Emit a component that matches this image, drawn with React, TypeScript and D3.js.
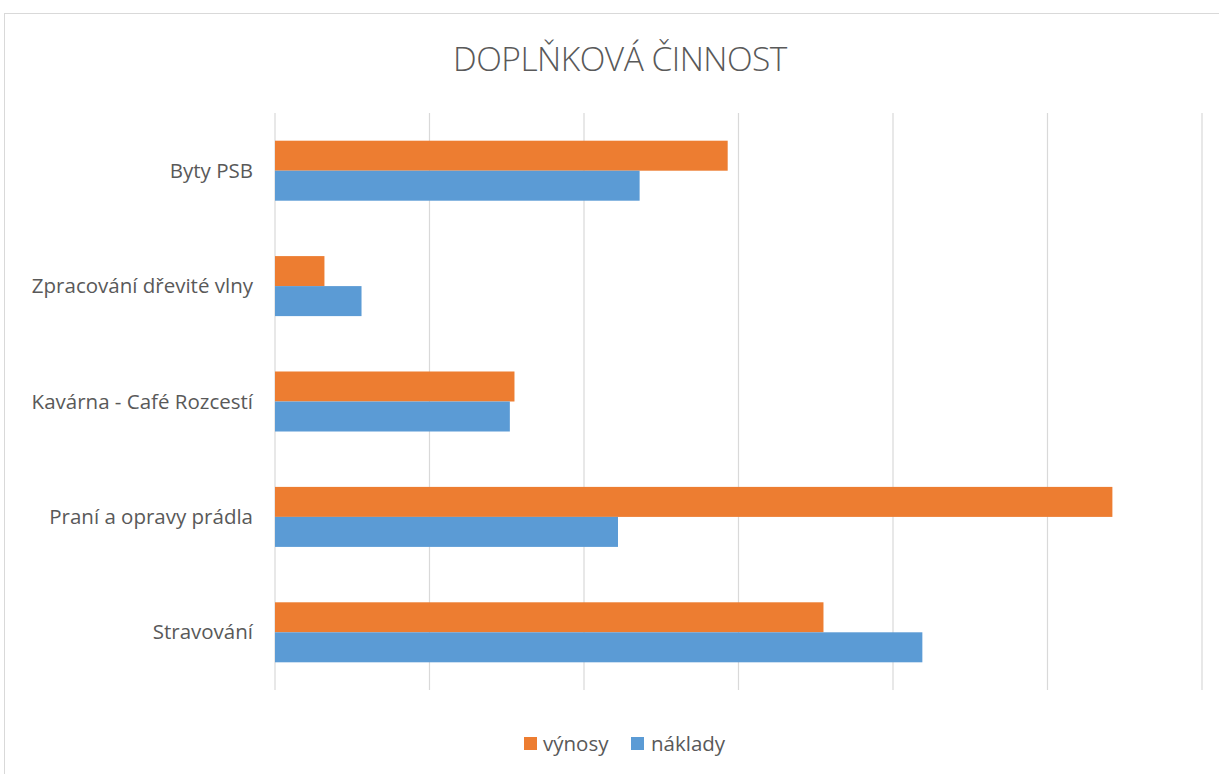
import * as d3 from "d3";

const categories = ["Byty PSB", "Zpracování dřevité vlny", "Kavárna - Café Rozcestí", "Praní a opravy prádla", "Stravování"];
const vynosy = [2.93, 0.32, 1.55, 5.42, 3.55];
const naklady = [2.36, 0.56, 1.52, 2.22, 4.19];
const ticks = [0, 1, 2, 3, 4, 5, 6];

const series = [
  { name: "výnosy", values: vynosy, color: "#ED7D31" },
  { name: "náklady", values: naklady, color: "#5B9BD5" },
];

export default function App() {
  const width = 1219, height = 774;
  const left = 275, right = 1202, top = 113, bottom = 690;

  const x = d3.scaleLinear().domain([0, 6]).range([left, right]);
  const y = d3.scaleBand().domain(categories).range([top, bottom]).paddingInner(0.48).paddingOuter(0.24);
  const inner = d3.scaleBand().domain(series.map(s => s.name)).range([0, y.bandwidth()]);
  const font = "'Open Sans', 'Noto Sans', sans-serif";

  return (
    <svg width={width} height={height} style={{ position: "absolute", left: 0, top: 0 }}>
      <rect x={0} y={0} width={width} height={height} fill="#fff" />
      <rect x={4.5} y={13.5} width={1230} height={800} fill="#fff" stroke="#d9d9d9" />
      <text x={620} y={71} textAnchor="middle" fontFamily={font} fontWeight={300} fontSize={33.5} fill="#595959" letterSpacing={-0.5}>
        DOPLŇKOVÁ ČINNOST
      </text>
      {ticks.map(t => (
        <line key={t} x1={x(t)} x2={x(t)} y1={top} y2={bottom} stroke="#d9d9d9" strokeWidth={1.2} />
      ))}
      {categories.map((c, i) => (
        <g key={c}>
          {series.map(s => (
            <rect
              key={s.name}
              x={x(0)}
              y={(y(c) ?? 0) + (inner(s.name) ?? 0)}
              width={x(s.values[i]) - x(0)}
              height={inner.bandwidth()}
              fill={s.color}
            />
          ))}
          <text x={253} y={(y(c) ?? 0) + y.bandwidth() / 2} dy="0.35em" textAnchor="end" fontFamily={font} fontSize={20.5} fill="#595959">
            {c}
          </text>
        </g>
      ))}
      <g fontFamily={font} fontSize={20.5} fill="#595959">
        <rect x={524} y={737} width={13} height={13} fill={series[0].color} />
        <text x={543} y={751}>{series[0].name}</text>
        <rect x={631} y={737} width={13} height={13} fill={series[1].color} />
        <text x={651} y={751}>{series[1].name}</text>
      </g>
    </svg>
  );
}
